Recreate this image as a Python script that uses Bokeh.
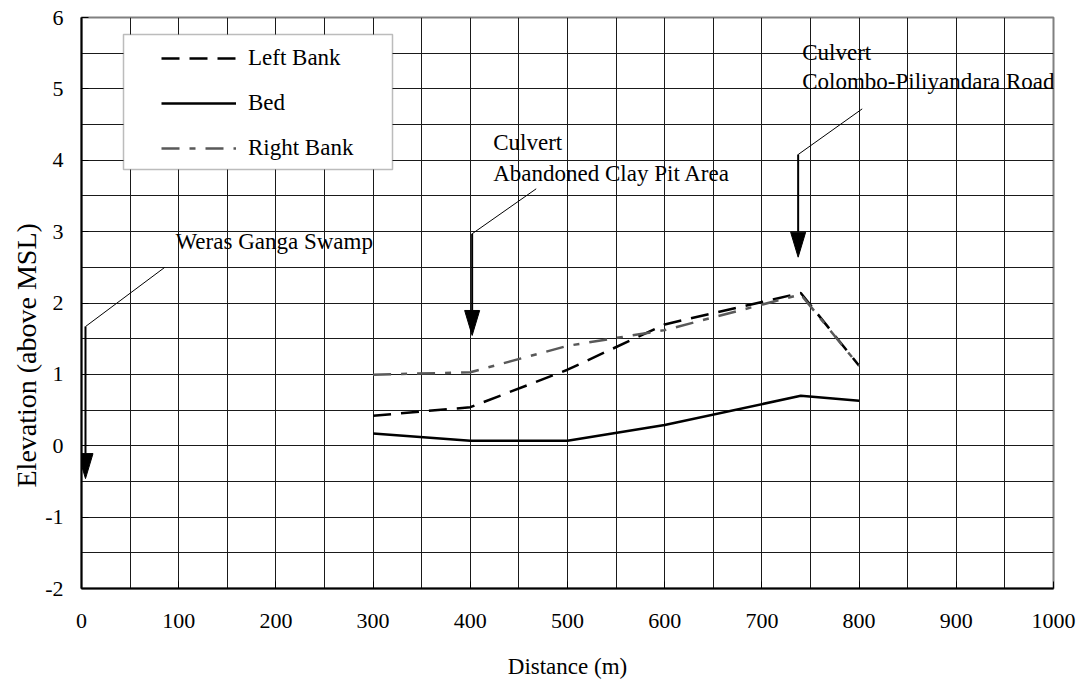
from bokeh.plotting import figure
from bokeh.models import (Range1d, FixedTicker, Legend, LegendItem, BoxAnnotation, Title,
                          LabelSet, ColumnDataSource)
from bokeh.core.properties import value
from bokeh.embed import file_html
from bokeh.resources import INLINE

# ---------------- data ----------------
DISTANCE = [300, 400, 500, 600, 740, 800]
LEFT_BANK = [0.42, 0.54, 1.065, 1.70, 2.14, 1.12]
BED = [0.17, 0.07, 0.07, 0.29, 0.70, 0.63]
RIGHT_BANK = [0.995, 1.03, 1.40, 1.62, 2.12, 1.12]

X_TICKS = [0, 100, 200, 300, 400, 500, 600, 700, 800, 900, 1000]
Y_TICKS = [-2, -1, 0, 1, 2, 3, 4, 5, 6]
Y_TICK_LABELS = ["-2", "-1", "0", "1", "2", "3", "4", "5", "6"]
X_GRID = [0, 50, 100, 150, 200, 250, 300, 350, 400, 450, 500, 550, 600, 650,
          700, 750, 800, 850, 900, 950, 1000]
Y_GRID = [-2, -1.5, -1, -0.5, 0, 0.5, 1, 1.5, 2, 2.5, 3, 3.5, 4, 4.5, 5, 5.5, 6]

# annotation texts (left edge x, baseline y)
ANN_TEXTS = ["Weras Ganga Swamp", "Culvert", "Abandoned Clay Pit Area",
             "Culvert", "Colombo-Piliyandara Road"]
ANN_TEXT_X = [96.7, 423.6, 423.6, 741.5, 741.5]
ANN_TEXT_Y = [2.76, 4.137, 3.716, 5.398, 5.0]

# leader lines: start -> elbow -> arrow tip (vertical)
LEADER_X0 = [85.7, 467.8, 803.2]
LEADER_Y0 = [2.50, 3.60, 4.72]
ELBOW_X = [4.1, 401.9, 737.3]
ELBOW_Y = [1.67, 2.97, 4.08]
TIP_Y = [-0.46, 1.545, 2.642]

# ---------------- layout / style ----------------
X_MIN, X_MAX = 0, 1000
Y_MIN, Y_MAX = -2, 6
W, H = 1085, 681
B_LEFT, B_RIGHT, B_TOP, B_BOTTOM = 81, 32, 17, 93
FRAME_W = W - B_LEFT - B_RIGHT
FRAME_H = H - B_TOP - B_BOTTOM
PX_X = FRAME_W / (X_MAX - X_MIN)
PX_Y = FRAME_H / (Y_MAX - Y_MIN)
HEAD_LEN_PX = 25
HEAD_HALF_W_PX = 7.5
FONT = "Liberation Serif"

p = figure(width=W, height=H, output_backend="svg", toolbar_location=None,
           x_range=Range1d(X_MIN, X_MAX), y_range=Range1d(Y_MIN, Y_MAX),
           min_border_left=B_LEFT, min_border_right=B_RIGHT,
           min_border_top=B_TOP, min_border_bottom=B_BOTTOM,
           background_fill_color="white", border_fill_color="white")

p.outline_line_color = "#808080"
p.outline_line_width = 2

p.xgrid.ticker = FixedTicker(ticks=X_GRID)
p.ygrid.ticker = FixedTicker(ticks=Y_GRID)
for g in (p.xgrid, p.ygrid):
    g.grid_line_color = "#1a1a1a"
    g.grid_line_width = 1

p.xaxis.ticker = FixedTicker(ticks=X_TICKS)
p.yaxis.ticker = FixedTicker(ticks=Y_TICKS)
p.yaxis.major_label_overrides = {t: s for t, s in zip(Y_TICKS, Y_TICK_LABELS)}
for ax in (p.xaxis, p.yaxis):
    ax.axis_line_color = "black"
    ax.axis_line_width = 2
    ax.major_tick_in = 7
    ax.major_tick_out = 0
    ax.minor_tick_in = 0
    ax.minor_tick_out = 0
    ax.major_tick_line_color = "black"
    ax.major_label_text_font = FONT
    ax.major_label_text_font_size = "22px"
    ax.major_label_text_color = "black"
p.yaxis.major_label_standoff = 18
p.xaxis.major_label_standoff = 25
p.xaxis.axis_label = "Distance (m)"
p.xaxis.axis_label_text_font = FONT
p.xaxis.axis_label_text_font_size = "23px"
p.xaxis.axis_label_text_font_style = "normal"
p.xaxis.axis_label_text_color = "black"
p.xaxis.axis_label_standoff = 23

p.add_layout(Title(text="Elevation (above MSL)", align="left", offset=101,
                   text_font=FONT, text_font_size="28px", text_font_style="normal",
                   text_color="black", standoff=2), "left")

# ---------------- series ----------------
r_left = p.line(DISTANCE, LEFT_BANK, line_color="black", line_width=2.5, line_dash="18 10")
r_bed = p.line(DISTANCE, BED, line_color="black", line_width=2.5)
r_right = p.line(DISTANCE, RIGHT_BANK, line_color="#595959", line_width=2.5,
                 line_dash="18 10 6 10")

# ---------------- annotations ----------------
ann_src = ColumnDataSource(data=dict(x=ANN_TEXT_X, y=ANN_TEXT_Y, text=ANN_TEXTS))
p.add_layout(LabelSet(x="x", y="y", text="text", source=ann_src,
                      text_font=value(FONT), text_font_size="23px", text_color="black",
                      text_align="left", text_baseline="alphabetic"))

p.segment(x0=LEADER_X0, y0=LEADER_Y0, x1=ELBOW_X, y1=ELBOW_Y,
          line_color="black", line_width=1)
head_len = HEAD_LEN_PX / PX_Y
head_hw = HEAD_HALF_W_PX / PX_X
p.segment(x0=ELBOW_X, y0=ELBOW_Y, x1=ELBOW_X, y1=[t + head_len for t in TIP_Y],
          line_color="black", line_width=2)
p.patches(xs=[[x - head_hw, x + head_hw, x] for x in ELBOW_X],
          ys=[[t + head_len, t + head_len, t] for t in TIP_Y],
          fill_color="black", line_color="black", line_width=1)

# ---------------- legend ----------------
LEG_BOX_PX = (42, 17, 311, 152)   # left, top, right, bottom in frame pixels
box = BoxAnnotation(left=X_MIN + LEG_BOX_PX[0] / PX_X, right=X_MIN + LEG_BOX_PX[2] / PX_X,
                    top=Y_MAX - LEG_BOX_PX[1] / PX_Y, bottom=Y_MAX - LEG_BOX_PX[3] / PX_Y,
                    fill_color="white", fill_alpha=1, line_color="#222222", line_width=1.5)
p.add_layout(box)

legend = Legend(items=[LegendItem(label="Left Bank", renderers=[r_left]),
                       LegendItem(label="Bed", renderers=[r_bed]),
                       LegendItem(label="Right Bank", renderers=[r_right])],
                location=(80, FRAME_H - 144), padding=0, margin=0, spacing=19,
                glyph_width=75, glyph_height=26, label_height=26, label_standoff=12,
                label_text_font=FONT, label_text_font_size="23px",
                label_text_color="black",
                border_line_alpha=0, background_fill_alpha=0)
p.add_layout(legend)

open("out.html", "w").write(file_html(p, INLINE))
